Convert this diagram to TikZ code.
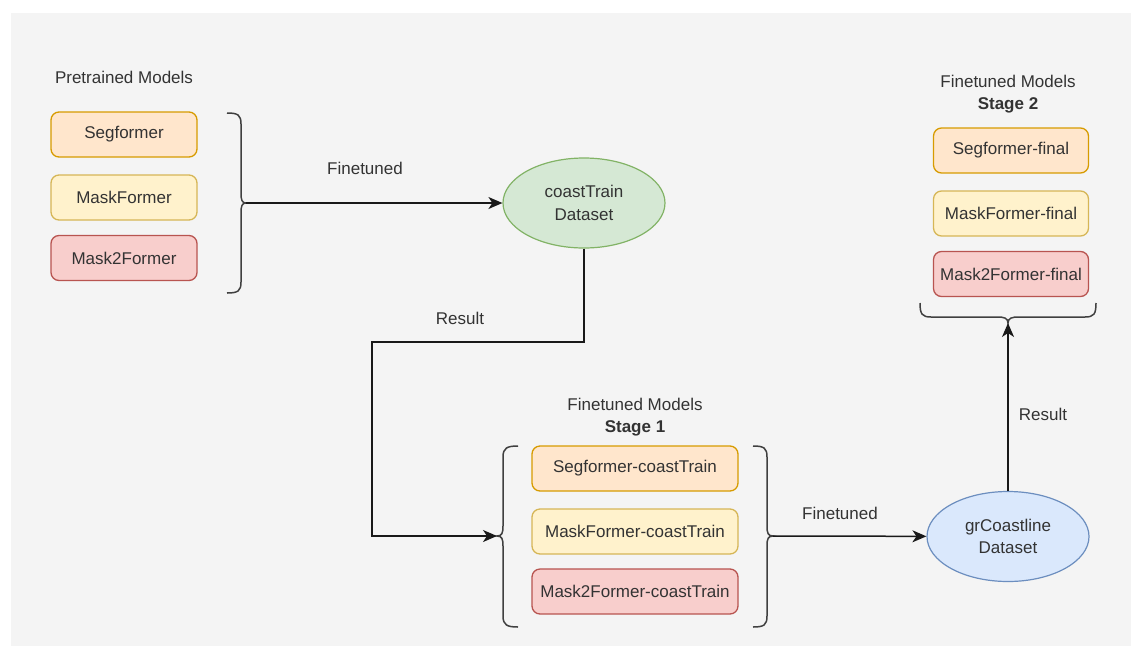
\documentclass[tikz,border=0pt]{standalone}
\usepackage{fontspec}
\setmainfont{Liberation Sans}
\usetikzlibrary{arrows.meta,shapes.geometric}
\definecolor{canvas}{HTML}{F4F4F4}
\definecolor{txt}{HTML}{333333}
\definecolor{orFill}{HTML}{FFE6CC}\definecolor{orLine}{HTML}{D79B00}
\definecolor{yeFill}{HTML}{FFF2CC}\definecolor{yeLine}{HTML}{D6B656}
\definecolor{rdFill}{HTML}{F8CECC}\definecolor{rdLine}{HTML}{B85450}
\definecolor{grFill}{HTML}{D5E8D4}\definecolor{grLine}{HTML}{82B366}
\definecolor{blFill}{HTML}{DAE8FC}\definecolor{blLine}{HTML}{6C8EBF}
\begin{document}
\begin{tikzpicture}[x=1pt,y=-1pt,
  every node/.style={text=txt,font=\fontsize{17}{22.5}\selectfont},
  model/.style={rectangle,rounded corners=8pt,line width=1.3pt,inner sep=0pt,
    minimum height=45pt},
  segbox/.style={model,fill=orFill,draw=orLine},
  maskbox/.style={model,fill=yeFill,draw=yeLine},
  mask2box/.style={model,fill=rdFill,draw=rdLine},
  dataset/.style={ellipse,inner sep=0pt,minimum width=162pt,minimum height=90pt,
    line width=1.2pt,align=center},
  heading/.style={align=center},
  lbl/.style={},
  conn/.style={line width=1.5pt,draw=black!90,-{Stealth[length=14pt,width=12pt,inset=4pt]}},
  brace/.style={line width=1.5pt,draw=black!75}]
\useasboundingbox (0,0) rectangle (1132,646);
\fill[white] (0,0) rectangle (1132,646);
\fill[canvas] (11,13) rectangle (1131,646);

% pretrained models
\node[heading] (hpre) at (124,77) {Pretrained Models};
\node[segbox,minimum width=146pt] (p1) at (124,134.5) {Segformer};
\node[maskbox,minimum width=146pt] (p2) at (124,197.5) {MaskFormer};
\node[mask2box,minimum width=146pt] (p3) at (124,258) {Mask2Former};
\draw[brace] (227,113) .. controls (238,113) and (241,115) .. (241,124) -- (241,193)
  .. controls (241,200) and (242,203) .. (246,203)
  .. controls (242,203) and (241,206) .. (241,213) -- (241,282)
  .. controls (241,291) and (238,293) .. (227,293);
\coordinate (b0tip) at (246,203);

% first dataset
\node[dataset,fill=grFill,draw=grLine] (ct) at (584,203) {coastTrain\\Dataset};
\draw[conn] (b0tip) -- (ct);
\node[lbl] (lf1) at (365,168) {Finetuned};

% stage 1 models
\node[heading] (hs1) at (635,417) {Finetuned Models\\\textbf{Stage 1}};
\node[segbox,minimum width=206pt] (s1) at (635,468.5) {Segformer-coastTrain};
\node[maskbox,minimum width=206pt] (s2) at (635,531.5) {MaskFormer-coastTrain};
\node[mask2box,minimum width=206pt] (s3) at (635,591.5) {Mask2Former-coastTrain};
\draw[brace] (518,446) .. controls (507,446) and (503,448) .. (503,457) -- (503,526)
  .. controls (503,533) and (502,536) .. (497,536)
  .. controls (502,536) and (503,539) .. (503,546) -- (503,616)
  .. controls (503,625) and (507,627) .. (518,627);
\coordinate (b1tip) at (497,536);
\draw[brace] (753,446) .. controls (764,446) and (767,448) .. (767,457) -- (767,526)
  .. controls (767,533) and (768,536) .. (773,536)
  .. controls (768,536) and (767,539) .. (767,546) -- (767,616)
  .. controls (767,625) and (764,627) .. (753,627);
\coordinate (b2tip) at (773,536);

% result of the first stage
\coordinate (r1) at (584,342);
\coordinate (r2) at (372,342);
\coordinate (r3) at (372,536);
\draw[conn] (ct.south) -- (r1) -- (r2) -- (r3) -- (b1tip);
\node[lbl] (lr1) at (460,318) {Result};

% second dataset
\node[dataset,fill=blFill,draw=blLine] (gc) at (1008,536.5) {grCoastline\\Dataset};
\draw[conn] (b2tip) -- (gc);
\node[lbl] (lf2) at (840,513) {Finetuned};

% stage 2 models
\node[heading] (hs2) at (1008,94) {Finetuned Models\\\textbf{Stage 2}};
\node[segbox,minimum width=155pt] (f1) at (1011,150.5) {Segformer-final};
\node[maskbox,minimum width=155pt] (f2) at (1011,213.5) {MaskFormer-final};
\node[mask2box,minimum width=155pt] (f3) at (1011,274) {Mask2Former-final};
\draw[brace] (920,303) .. controls (920,314) and (922,317) .. (931,317) -- (997,317)
  .. controls (1004,317) and (1008,318) .. (1008,323)
  .. controls (1008,318) and (1012,317) .. (1019,317) -- (1085,317)
  .. controls (1094,317) and (1096,314) .. (1096,303);
\coordinate (b3tip) at (1008,323);
\draw[conn] (gc.north) -- (b3tip);
\node[lbl] (lr2) at (1043,414) {Result};
\end{tikzpicture}
\end{document}
